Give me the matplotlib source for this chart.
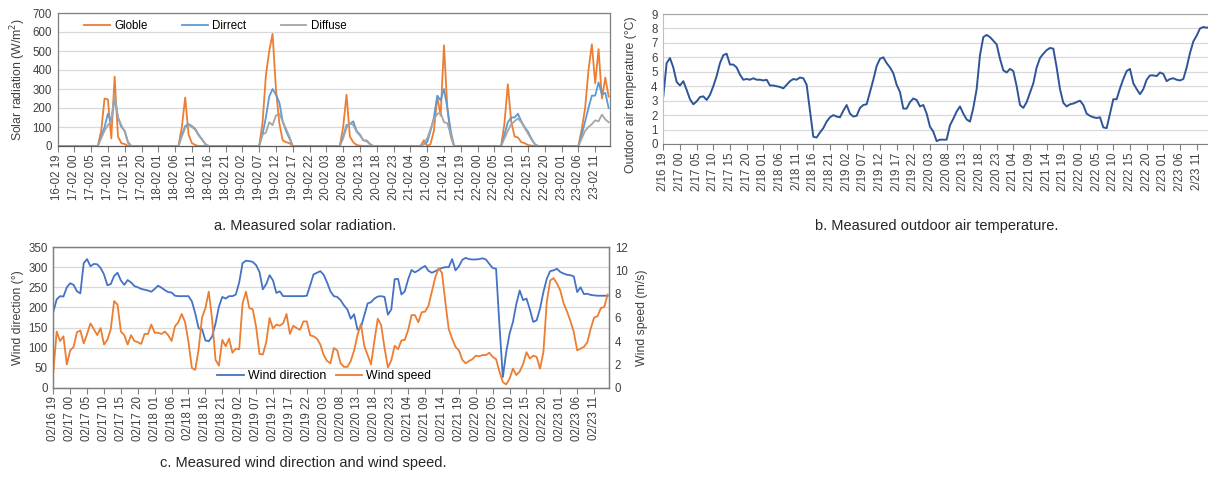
import numpy as np
import matplotlib
matplotlib.use("Agg")
import matplotlib.pyplot as plt
from matplotlib.ticker import MultipleLocator

plt.rcParams['font.family'] = ['Liberation Sans', 'DejaVu Sans']

# ---------------- data (hourly, 2/16 19:00 -> 2/23 15:00) ----------------
start_day = 16
start_hour = 19
n_hours = 165

globle = [0]*12 + [0, 80, 250, 245, 40, 365, 50, 15, 10, 0] + [0]*15 + \
         [100, 255, 60, 15, 5, 0] + [0]*18 + \
         [120, 370, 500, 590, 300, 120, 30, 20, 15, 0] + [0]*14 + \
         [100, 270, 50, 20, 5, 2, 0] + [0]*17 + \
         [30, 0, 10, 80, 260, 160, 530, 200, 50, 0] + [0]*14 + \
         [120, 325, 130, 50, 45, 20, 15, 5, 2, 0] + [0]*13 + \
         [90, 200, 400, 535, 330, 510, 250, 360, 260]

direct = [0]*13 + [50, 100, 170, 130, 250, 150, 100, 80, 20, 0] + [0]*14 + \
         [60, 105, 115, 105, 90, 60, 35, 10, 0] + [0]*15 + \
         [60, 150, 260, 300, 270, 230, 130, 80, 40, 0] + [0]*14 + \
         [50, 110, 115, 130, 80, 60, 30, 25, 10, 0] + [0]*14 + \
         [10, 20, 80, 150, 265, 240, 300, 200, 80, 0] + [0]*14 + \
         [60, 125, 150, 150, 170, 130, 100, 75, 40, 10, 0] + [0]*12 + \
         [60, 130, 200, 265, 265, 335, 270, 280, 200]

diffuse = [0]*13 + [40, 80, 110, 130, 275, 150, 110, 75, 15, 0] + [0]*14 + \
          [50, 95, 110, 100, 85, 55, 35, 10, 0] + [0]*15 + \
          [60, 70, 125, 110, 160, 170, 130, 90, 50, 0] + [0]*14 + \
          [40, 95, 120, 110, 75, 55, 30, 30, 10, 0] + [0]*14 + \
          [15, 40, 90, 140, 170, 175, 125, 120, 60, 0] + [0]*14 + \
          [40, 80, 115, 130, 145, 125, 95, 65, 35, 10, 0] + [0]*12 + \
          [40, 80, 100, 115, 135, 130, 165, 140, 125]

temperature = [3.3, 5.6, 5.95, 5.3, 4.3, 4.05, 4.35, 3.75, 3.1, 2.75,
               2.95, 3.25, 3.3, 3.05, 3.4, 4.0, 4.7, 5.6, 6.15, 6.25,
               5.5, 5.5, 5.3, 4.8, 4.45, 4.5, 4.45, 4.55, 4.45, 4.45,
               4.4, 4.45, 4.05, 4.05, 4.0, 3.95, 3.85, 4.1, 4.35, 4.5,
               4.45, 4.6, 4.55, 4.1, 2.3, 0.5, 0.45, 0.8, 1.1, 1.55,
               1.85, 2.0, 1.9, 1.85, 2.3, 2.7, 2.1, 1.9, 1.95, 2.5,
               2.7, 2.75, 3.6, 4.45, 5.4, 5.9, 6.0, 5.6, 5.3, 4.9,
               4.1, 3.6, 2.45, 2.45, 2.9, 3.15, 3.05, 2.6, 2.7, 2.1,
               1.2, 0.85, 0.2, 0.3, 0.3, 0.3, 1.3, 1.75, 2.25, 2.6,
               2.1, 1.7, 1.55, 2.5, 3.8, 6.15, 7.4, 7.55, 7.4, 7.15,
               6.9, 5.9, 5.1, 4.95, 5.2, 5.05, 4.0, 2.7, 2.5, 2.9,
               3.55, 4.2, 5.3, 5.95, 6.25, 6.5, 6.65, 6.6, 5.3, 3.8,
               2.85, 2.6, 2.75, 2.8, 2.9, 3.0, 2.7, 2.1, 1.95, 1.85,
               1.8, 1.85, 1.15, 1.1, 2.1, 3.1, 3.1, 3.85, 4.5, 5.05,
               5.2, 4.2, 3.8, 3.45, 3.8, 4.45, 4.75, 4.75, 4.7, 4.95,
               4.85, 4.35, 4.5, 4.55, 4.45, 4.4, 4.5, 5.3, 6.3, 7.1,
               7.5, 8.0, 8.1, 8.05, 8.1]

wind_direction = [189, 220, 228, 227, 250, 260, 256, 240, 235, 310,
                  320, 302, 308, 307, 298, 282, 255, 258, 278, 286,
                  267, 256, 268, 262, 253, 250, 246, 244, 242, 239,
                  246, 254, 249, 243, 238, 237, 229, 228, 228, 228,
                  228, 215, 185, 148, 146, 118, 116, 128, 160, 202,
                  226, 222, 228, 228, 232, 262, 310, 316, 315, 313,
                  305, 288, 245, 258, 280, 267, 236, 240, 228, 228,
                  228, 228, 228, 228, 228, 229, 255, 282, 286, 290,
                  281, 262, 240, 228, 226, 218, 205, 195, 172, 183,
                  145, 150, 180, 210, 213, 222, 227, 228, 226, 182,
                  195, 270, 271, 232, 240, 270, 293, 287, 292, 298,
                  303, 291, 286, 290, 294, 298, 300, 300, 320, 292,
                  302, 318, 323, 320, 319, 319, 320, 322, 319, 308,
                  298, 296, 156, 27, 89, 135, 164, 209, 242, 218,
                  222, 195, 164, 168, 197, 238, 271, 290, 292, 296,
                  288, 284, 281, 280, 277, 238, 250, 233, 234, 231,
                  230, 229, 229, 229, 229]

wind_speed = [1.36, 4.8, 4.0, 4.4, 2.0, 3.2, 3.5, 4.75, 4.9, 3.8,
              4.6, 5.5, 5.0, 4.5, 5.1, 3.7, 4.1, 5.0, 7.4, 7.1,
              4.8, 4.5, 3.7, 4.5, 4.0, 3.9, 3.75, 4.6, 4.6, 5.4,
              4.7, 4.7, 4.6, 4.8, 4.5, 4.0, 5.25, 5.6, 6.3, 5.6,
              3.9, 1.7, 1.55, 3.3, 6.0, 6.8, 8.2, 5.8, 2.4, 1.9,
              4.1, 3.55, 4.2, 3.0, 3.35, 3.3, 7.2, 8.2, 6.8, 6.7,
              5.2, 2.9, 2.85, 3.9, 5.95, 5.05, 5.4, 5.3, 5.5, 6.3,
              4.6, 5.3, 5.1, 4.96, 5.67, 5.67, 4.48, 4.4, 4.2, 3.7,
              2.8, 2.3, 2.1, 3.4, 3.2, 2.1, 1.8, 1.8, 2.3, 3.2,
              4.5, 5.45, 3.6, 2.8, 2.0, 4.0, 5.9, 5.35, 3.4, 1.75,
              2.35, 3.6, 3.3, 4.05, 4.1, 4.95, 6.2, 6.2, 5.6, 6.45,
              6.5, 7.0, 8.2, 9.4, 10.2, 9.8, 7.3, 5.0, 4.2, 3.5,
              3.2, 2.4, 2.1, 2.3, 2.45, 2.75, 2.7, 2.8, 2.8, 3.0,
              2.65, 2.45, 1.4, 0.5, 0.3, 0.8, 1.65, 1.1, 1.4, 2.05,
              3.05, 2.5, 2.75, 2.65, 1.65, 3.05, 7.3, 9.15, 9.35, 8.9,
              8.3, 7.2, 6.5, 5.7, 4.75, 3.2, 3.35, 3.5, 3.9, 5.05,
              6.0, 6.1, 6.8, 6.9, 7.95]

hours = np.arange(n_hours)
tick_hours = np.arange(0, 161, 5)

def label_parts(h):
    total = start_hour + h
    return start_day + total // 24, total % 24

labels_a = ["%02d-02 %02d" % label_parts(h) for h in tick_hours]
labels_b = ["2/%d %02d" % label_parts(h) for h in tick_hours]
labels_c = ["02/%d %02d" % label_parts(h) for h in tick_hours]

# ---------------- styling ----------------
ORANGE = '#ED7D31'
LBLUE = '#5B9BD5'
GRAY = '#A5A5A5'
DBLUE = '#2F5597'
BLUE = '#4472C4'
GRID = '#D9D9D9'
TXT = '#404040'
FS = 8.3

fig = plt.figure(figsize=(12.08, 4.8), dpi=100)
W, H = 1208.0, 480.0

def add_ax(l, r, t, b):
    return fig.add_axes([l / W, 1 - b / H, (r - l) / W, (b - t) / H])

def style_x(ax, labels):
    ax.set_xticks(tick_hours)
    ax.set_xticklabels(labels, rotation=90, fontsize=FS, color=TXT)
    ax.tick_params(axis='x', length=4, width=0.8, color='#808080', pad=2)
    ax.tick_params(axis='y', length=0, labelsize=FS, labelcolor=TXT, pad=4)
    ax.grid(axis='y', color=GRID, lw=0.9)
    ax.set_axisbelow(True)

# ---- panel a ----
ax1 = add_ax(57.5, 610, 13, 146)
ax1.plot(hours, globle, color=ORANGE, lw=1.3, label='Globle')
ax1.plot(hours, direct, color=LBLUE, lw=1.3, label='Dirrect')
ax1.plot(hours, diffuse, color=GRAY, lw=1.3, label='Diffuse')
ax1.set_xlim(0, 164.4)
ax1.set_ylim(0, 700)
ax1.yaxis.set_major_locator(MultipleLocator(100))
style_x(ax1, labels_a)
for s in ax1.spines.values():
    s.set_color('#7F7F7F'); s.set_linewidth(0.9)
ax1.spines['bottom'].set_color('#595959')
ax1.set_ylabel('Solar radiation (W/m$^2$)', fontsize=FS + 0.5, color=TXT, labelpad=3)
ax1.legend(loc='upper left', bbox_to_anchor=(0.03, 1.025), ncol=3, frameon=False,
           fontsize=FS, handlelength=2.2, columnspacing=3.0, handletextpad=0.4)

# ---- panel b ----
ax2 = add_ax(663.3, 1208, 14, 144)
ax2.plot(hours, temperature, color=DBLUE, lw=1.4)
ax2.set_xlim(0, 163.4)
ax2.set_ylim(0, 9)
ax2.yaxis.set_major_locator(MultipleLocator(1))
style_x(ax2, labels_b)
ax2.spines['right'].set_visible(False)
ax2.spines['top'].set_color('#A6A6A6')
ax2.spines['left'].set_color('#BFBFBF')
ax2.spines['bottom'].set_color('#7F7F7F')
ax2.set_ylabel('Outdoor air temperature (°C)', fontsize=FS + 0.5, color=TXT)
ax2.yaxis.set_label_coords(-0.048, 0.38)

# ---- panel c ----
ax3 = add_ax(53.3, 609.3, 247, 388)
l1, = ax3.plot(hours, wind_direction, color=BLUE, lw=1.3, label='Wind direction')
ax3.set_xlim(0, 164.5)
ax3.set_ylim(0, 350)
ax3.yaxis.set_major_locator(MultipleLocator(50))
style_x(ax3, labels_c)
ax3.set_ylabel('Wind direction (°)', fontsize=FS + 0.5, color=TXT, labelpad=3)
ax4 = ax3.twinx()
l2, = ax4.plot(hours, wind_speed, color=ORANGE, lw=1.3, label='Wind speed')
ax4.set_ylim(0, 12)
ax4.yaxis.set_major_locator(MultipleLocator(2))
ax4.tick_params(axis='y', length=0, labelsize=FS, labelcolor=TXT, pad=4)
ax4.set_ylabel('Wind speed (m/s)', fontsize=FS + 0.5, color=TXT, labelpad=6)
for a in (ax3, ax4):
    for s in a.spines.values():
        s.set_color('#7F7F7F'); s.set_linewidth(0.9)
ax4.legend([l1, l2], ['Wind direction', 'Wind speed'], loc='lower center',
           bbox_to_anchor=(0.487, -0.035), ncol=2, frameon=False, fontsize=FS + 0.5,
           handlelength=2.2, columnspacing=0.8, handletextpad=0.3)

# ---- captions ----
fig.text(305 / W, 1 - 226 / H, 'a. Measured solar radiation.', ha='center', va='center',
         fontsize=10.5, color='#262626')
fig.text(937 / W, 1 - 226 / H, 'b. Measured outdoor air temperature.', ha='center', va='center',
         fontsize=10.5, color='#262626')
fig.text(303 / W, 1 - 463 / H, 'c. Measured wind direction and wind speed.', ha='center',
         va='center', fontsize=10.5, color='#262626')

fig.savefig('out.png', dpi=100)
